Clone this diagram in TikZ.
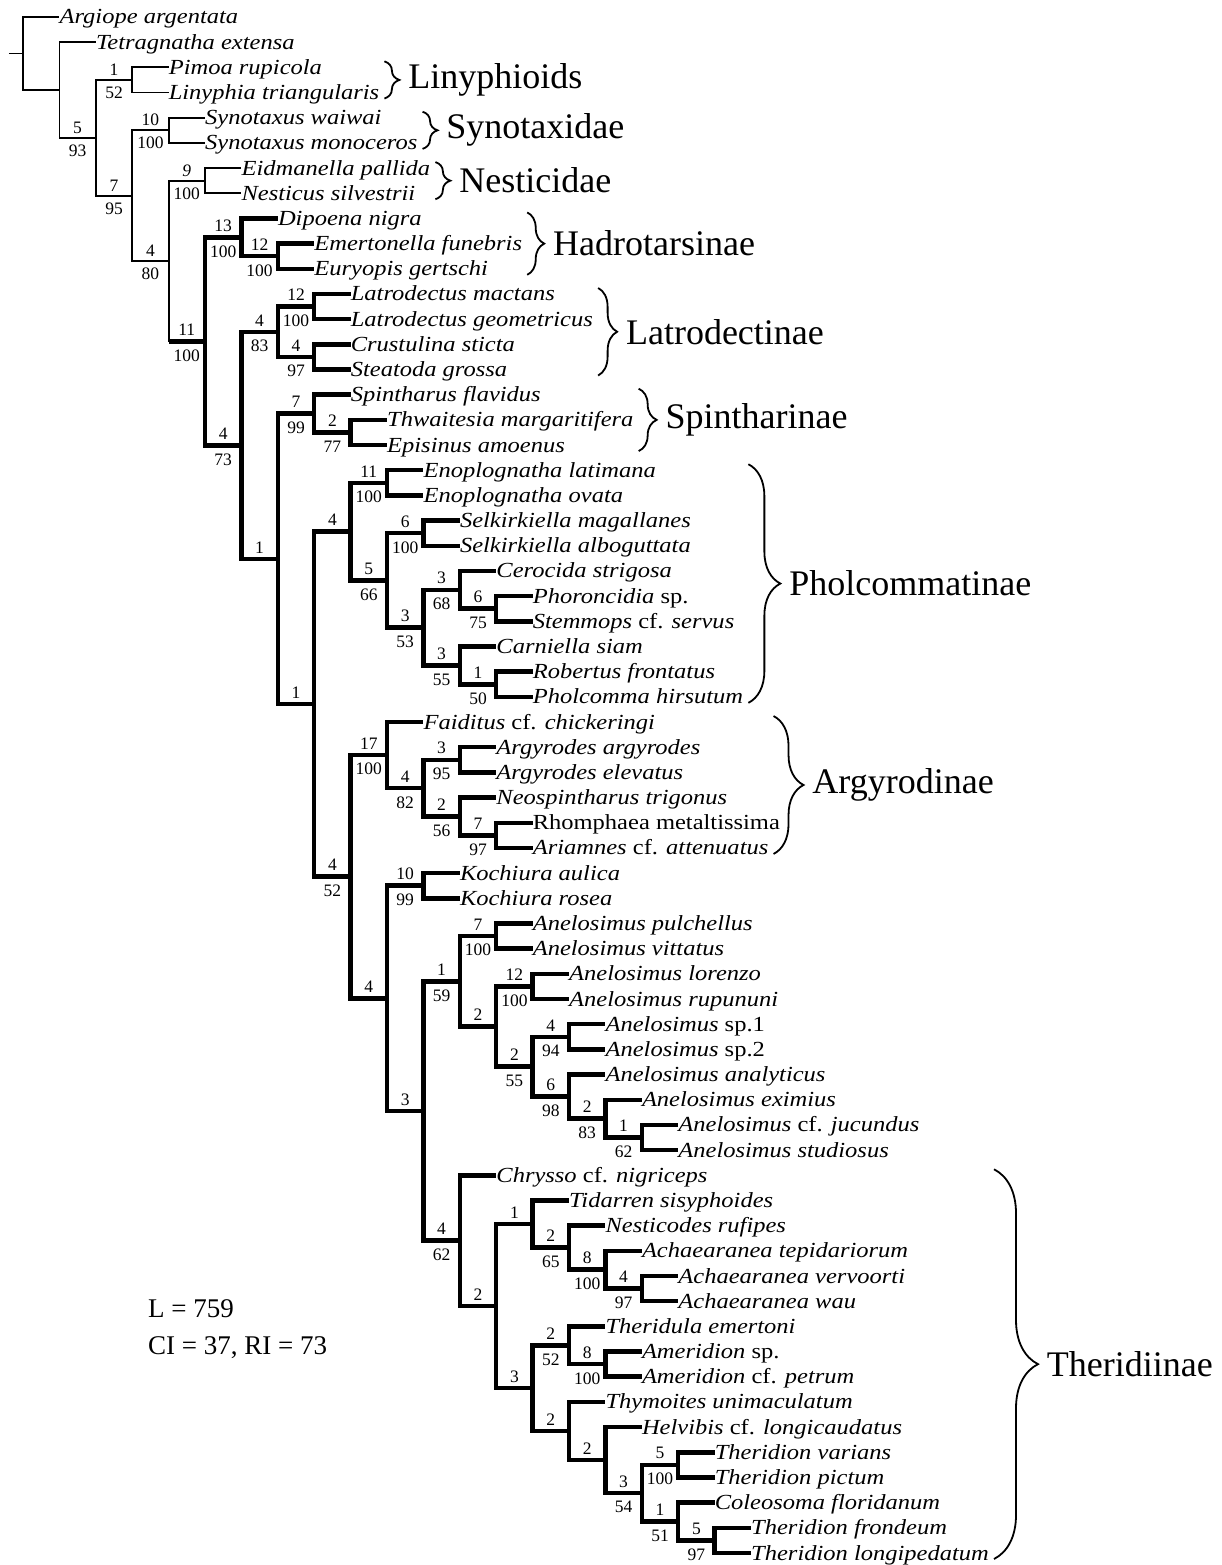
\documentclass[tikz,border=0pt]{standalone}
\usepackage{fontspec}
\setmainfont{Liberation Serif}[FakeStretch=1.14]
\newfontfamily\suppfont{Liberation Serif}
\usetikzlibrary{decorations.pathreplacing}

\tikzset{
  thinbr/.style={line width=1.8pt},
  thickbr/.style={line width=4.5pt},
  taxon/.style={anchor=west, inner sep=0pt, text height=18.6pt, text depth=4.6pt, font=\fontsize{21.5}{21.5}\selectfont\itshape},
  bremer/.style={above=2.5pt, inner sep=1pt, font=\suppfont\fontsize{17.5}{17.5}\selectfont},
  boot/.style={below=5pt, inner sep=1pt, font=\suppfont\fontsize{17.5}{17.5}\selectfont},
  cbrace/.style={decorate, decoration={brace, amplitude=#1}, line width=1.8pt},
  clade/.style={inner sep=0pt, font=\suppfont\fontsize{36}{36}\selectfont},
  stats/.style={inner sep=0pt, font=\suppfont\fontsize{27}{27}\selectfont}
}

\begin{document}
\begin{tikzpicture}[x=36.4pt, y=-25.18pt]
\useasboundingbox (-23pt,-8.18pt) rectangle (1198pt,-1573.18pt);
\foreach \nm/\dep/\row in {root/0/2.4494, nA/1/3.8988, nB/2/5.7975, nC/3/3.5, nD/3/8.0950, nE/4/5.5,
    nF/4/10.6900, nG/5/7.5, nH/5/13.8800, nI/6/9.75, nK/7/10.5, nJ/6/18.0101, nL/7/13.5, nN/8/12.5,
    nO/8/14.5, nM/7/22.5201, nP/8/16.75, nR/9/17.5, nQ/8/28.2903, nS/9/21.4375, nU/10/19.5,
    nV/10/23.375, nW/11/21.5, nX/11/25.25, nY/12/23.75, nYb/13/24.5, nZ/12/26.75, nZb/13/27.5,
    nT/9/35.1431, nAA/10/30.3125, nAC/11/31.625, nAD/12/30.5, nAE/12/32.75, nAF/13/33.5,
    nAB/10/39.9736, nAG/11/35.5, nAH/11/44.4473, nAI/12/39.2969, nAK/13/37.5, nAL/13/41.0938,
    nAM/14/39.5, nAN/14/42.6875, nAO/15/41.5, nAP/15/43.875, nAQ/16/44.75, nAR/17/45.5,
    nAJ/12/49.5977, nAS/13/52.1953, nAT/14/48.9375, nAV/15/49.875, nAW/16/50.75, nAX/17/51.5,
    nAU/14/55.4531, nAY/15/53.75, nBA/16/54.5, nAZ/15/57.1563, nBB/16/58.3125, nBC/17/59.625,
    nBD/18/58.5, nBE/18/60.75, nBF/19/61.5}
  \coordinate (\nm) at (\dep,\row);
\coordinate (stub) at ([xshift=-14pt]root);
\draw[thinbr] (stub) -- (root);
\foreach \pa/\ch/\up/\lo in {root/nA//, nA/nB/5/93, nB/nC/1/52, nB/nD/7/95, nD/nE/10/100,
    nD/nF/4/80, nF/nG/{\textit{9}}/100, nF/nH//}
  \draw[thinbr] (\pa) |- node[pos=.75, bremer]{\up} node[pos=.75, boot]{\lo} (\ch);
\draw[thickbr] (nF |- nH) -- node[bremer]{11} node[boot]{100} (nH);
\foreach \pa/\ch/\up/\lo in {nH/nI/13/100, nH/nJ/4/73, nI/nK/12/100, nJ/nL/4/83, nJ/nM/1/,
    nL/nN/12/100, nL/nO/4/97, nM/nP/7/99, nM/nQ/1/, nP/nR/2/77, nQ/nS/4/, nQ/nT/4/52,
    nS/nU/11/100, nS/nV/5/66, nV/nW/6/100, nV/nX/3/53, nX/nY/3/68, nX/nZ/3/55, nY/nYb/6/75,
    nZ/nZb/1/50, nT/nAA/17/100, nT/nAB/4/, nAA/nAC/4/82, nAC/nAD/3/95, nAC/nAE/2/56,
    nAE/nAF/7/97, nAB/nAG/10/99, nAB/nAH/3/, nAH/nAI/1/59, nAH/nAJ/4/62, nAI/nAK/7/100,
    nAI/nAL/2/, nAL/nAM/12/100, nAL/nAN/2/55, nAN/nAO/4/94, nAN/nAP/6/98, nAP/nAQ/2/83,
    nAQ/nAR/1/62, nAJ/nAS/2/, nAS/nAT/1/, nAS/nAU/3/, nAT/nAV/2/65, nAV/nAW/8/100,
    nAW/nAX/4/97, nAU/nAY/2/52, nAU/nAZ/2/, nAY/nBA/8/100, nAZ/nBB/2/, nBB/nBC/3/54,
    nBC/nBD/5/100, nBC/nBE/1/51, nBE/nBF/5/97}
  \draw[thickbr] (\pa) |- node[pos=.75, bremer]{\up} node[pos=.75, boot]{\lo} (\ch);
\foreach \row/\dep/\pa/\txt in {1/1/root/{Argiope argentata}, 2/2/nA/{Tetragnatha extensa},
    3/4/nC/{Pimoa rupicola}, 4/4/nC/{Linyphia triangularis}, 5/5/nE/{Synotaxus waiwai},
    6/5/nE/{Synotaxus monoceros}, 7/6/nG/{Eidmanella pallida}, 8/6/nG/{Nesticus silvestrii}} {
  \node[taxon] (t\row) at (\dep,\row) {\txt};
  \draw[thinbr] (\pa) |- (t\row.west);
}
\foreach \row/\dep/\pa/\txt in {9/7/nI/{Dipoena nigra}, 10/8/nK/{Emertonella funebris},
    11/8/nK/{Euryopis gertschi}, 12/9/nN/{Latrodectus mactans}, 13/9/nN/{Latrodectus geometricus},
    14/9/nO/{Crustulina sticta}, 15/9/nO/{Steatoda grossa}, 16/9/nP/{Spintharus flavidus},
    17/10/nR/{Thwaitesia margaritifera}, 18/10/nR/{Episinus amoenus},
    19/11/nU/{Enoplognatha latimana}, 20/11/nU/{Enoplognatha ovata},
    21/12/nW/{Selkirkiella magallanes}, 22/12/nW/{Selkirkiella alboguttata},
    23/13/nY/{Cerocida strigosa}, 24/14/nYb/{Phoroncidia \textup{sp.}},
    25/14/nYb/{Stemmops \textup{cf.} servus}, 26/13/nZ/{Carniella siam},
    27/14/nZb/{Robertus frontatus}, 28/14/nZb/{Pholcomma hirsutum},
    29/11/nAA/{Faiditus \textup{cf.} chickeringi}, 30/13/nAD/{Argyrodes argyrodes},
    31/13/nAD/{Argyrodes elevatus}, 32/13/nAE/{Neospintharus trigonus},
    33/14/nAF/{\textup{Rhomphaea metaltissima}}, 34/14/nAF/{Ariamnes \textup{cf.} attenuatus},
    35/12/nAG/{Kochiura aulica}, 36/12/nAG/{Kochiura rosea},
    37/14/nAK/{Anelosimus pulchellus}, 38/14/nAK/{Anelosimus vittatus},
    39/15/nAM/{Anelosimus lorenzo}, 40/15/nAM/{Anelosimus rupununi},
    41/16/nAO/{Anelosimus \textup{sp.1}}, 42/16/nAO/{Anelosimus \textup{sp.2}},
    43/16/nAP/{Anelosimus analyticus}, 44/17/nAQ/{Anelosimus eximius},
    45/18/nAR/{Anelosimus \textup{cf.} jucundus}, 46/18/nAR/{Anelosimus studiosus},
    47/13/nAJ/{Chrysso \textup{cf.} nigriceps}, 48/15/nAT/{Tidarren sisyphoides},
    49/16/nAV/{Nesticodes rufipes}, 50/17/nAW/{Achaearanea tepidariorum},
    51/18/nAX/{Achaearanea vervoorti}, 52/18/nAX/{Achaearanea wau},
    53/16/nAY/{Theridula emertoni}, 54/17/nBA/{Ameridion \textup{sp.}},
    55/17/nBA/{Ameridion \textup{cf.} petrum}, 56/16/nAZ/{Thymoites unimaculatum},
    57/17/nBB/{Helvibis \textup{cf.} longicaudatus}, 58/19/nBD/{Theridion varians},
    59/19/nBD/{Theridion pictum}, 60/19/nBE/{Coleosoma floridanum},
    61/20/nBF/{Theridion frondeum}, 62/20/nBF/{Theridion longipedatum}} {
  \node[taxon] (t\row) at (\dep,\row) {\txt};
  \draw[thickbr] (\pa) |- (t\row.west);
}
\foreach \top/\bot/\far/\amp/\name in {3/4/4/15/Linyphioids, 5/6/6/15/Synotaxidae,
    7/8/7/15/Nesticidae, 9/11/10/17/Hadrotarsinae, 12/15/13/19/Latrodectinae,
    16/18/17/18/Spintharinae, 19/28/28/32/Pholcommatinae, 29/34/34/30/Argyrodinae,
    47/62/62/44/Theridiinae}
  \draw[cbrace=\amp pt] ([xshift=5pt, yshift=6pt]t\far.east |- t\top.west)
    -- ([xshift=5pt, yshift=-6pt]t\far.east |- t\bot.west)
    node[clade, midway, right=\amp pt+8pt] {\name};
\node[stats, anchor=base west] (lscore) at (125pt,-1326pt) {L = 759};
\node[stats, anchor=base west] (ciri) at ([yshift=-37pt]lscore.base west) {CI = 37, RI = 73};
\end{tikzpicture}
\end{document}
